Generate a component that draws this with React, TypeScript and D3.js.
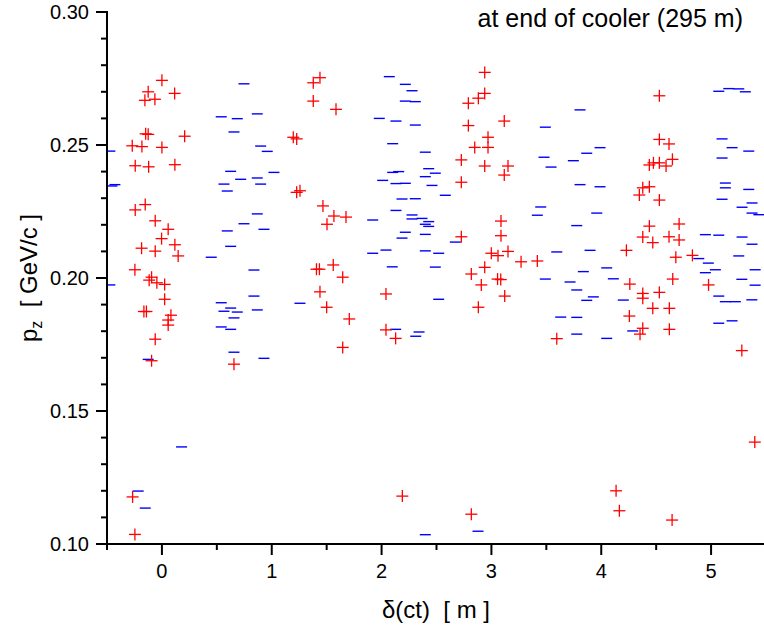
import React from 'react';
import * as d3 from 'd3';

const redX = [0.00,-0.125,0.116,-0.155,-0.064,1.378,1.439,1.378,-0.148,-0.125,0.207,-0.270,-0.182,0.000,1.196,1.227,-0.243,-0.121,0.118,1.227,1.257,1.466,1.566,1.676,1.503,-0.243,-0.152,-0.061,0.057,-0.003,0.118,-0.185,-0.061,0.148,-0.246,1.407,1.434,-0.116,-0.094,-0.046,0.025,0.025,-0.164,-0.141,0.082,0.057,0.057,-0.061,-0.094,0.656,1.560,1.646,1.439,1.500,1.706,1.646,1.585,2.040,2.040,2.128,2.189,2.939,2.939,2.881,2.790,3.117,2.790,2.969,2.848,2.969,2.726,2.939,3.151,3.117,2.726,3.087,3.087,2.726,2.999,3.060,3.151,3.270,3.418,2.939,2.817,2.908,3.056,3.085,3.121,2.881,3.595,2.817,4.260,4.378,4.378,4.529,4.469,4.620,4.256,4.378,4.353,4.620,4.651,4.977,5.280,5.398,4.529,4.529,4.617,4.648,4.438,4.475,4.529,4.590,4.378,4.438,4.347,4.529,4.438,4.709,4.378,4.469,4.617,4.709,4.229,4.679,4.830,4.135,4.165,4.645,-0.267,-0.246];
const redY = [0.2743,0.2700,0.2694,0.2668,0.2672,0.2734,0.2753,0.2665,0.2542,0.2540,0.2533,0.2497,0.2494,0.2491,0.2529,0.2523,0.2422,0.2418,0.2426,0.2322,0.2328,0.2271,0.2233,0.2229,0.2202,0.2256,0.2276,0.2215,0.2183,0.2148,0.2125,0.2112,0.2101,0.2083,0.2031,0.2033,0.2033,0.1992,0.2003,0.1982,0.1976,0.1920,0.1874,0.1874,0.1860,0.1842,0.1823,0.1770,0.1689,0.1676,0.2049,0.2003,0.1948,0.1890,0.1846,0.1739,0.2634,0.1940,0.1805,0.1773,0.1180,0.2773,0.2694,0.2676,0.2657,0.2590,0.2573,0.2529,0.2491,0.2491,0.2444,0.2421,0.2421,0.2387,0.2360,0.2214,0.2159,0.2155,0.2093,0.2084,0.2100,0.2061,0.2064,0.2040,0.2015,0.1974,0.1996,0.1994,0.1932,0.1890,0.1772,0.1112,0.1977,0.1942,0.1924,0.1946,0.1886,0.1886,0.1857,0.1811,0.1789,0.1807,0.1996,0.1974,0.1727,0.1383,0.2685,0.2521,0.2504,0.2446,0.2425,0.2433,0.2433,0.2421,0.2339,0.2343,0.2312,0.2293,0.2195,0.2203,0.2154,0.2133,0.2155,0.2143,0.2104,0.2078,0.2085,0.1200,0.1125,0.1090,0.1177,0.1036];

const blueX = [0.747,0.540,0.686,0.868,0.656,-0.474,0.899,0.959,0.626,0.717,0.868,1.020,0.565,0.899,0.595,-0.428,-0.455,0.868,0.747,0.595,0.929,0.626,0.449,0.838,-0.474,0.540,0.626,0.565,0.686,0.838,0.868,0.656,0.540,0.626,0.656,0.929,-0.125,1.257,2.097,2.128,2.341,2.311,-0.216,-0.152,0.179,2.398,2.878,2.070,2.216,2.277,2.216,2.307,1.979,2.131,2.307,3.491,2.101,2.398,3.479,2.101,2.156,2.429,2.489,2.398,2.010,2.131,2.216,2.459,2.580,2.186,2.307,2.131,2.277,2.277,2.368,2.429,2.398,2.429,1.919,2.216,2.398,2.186,2.671,2.040,1.919,2.398,2.520,2.489,3.449,3.418,3.491,3.543,2.520,3.716,3.837,4.050,4.110,3.777,3.928,3.868,4.201,3.631,3.777,3.777,4.050,4.287,4.975,5.039,4.948,5.401,5.280,5.401,5.070,5.130,5.221,5.371,5.070,5.191,3.807,3.989,3.868,3.746,3.807,3.989,3.959,3.777,3.595,3.898,5.070,5.161,5.252,5.312,5.100,5.191,5.343,5.100,5.130,5.130,5.343,5.100,5.282,5.373,5.373,5.435,4.948,5.070,5.282,5.373,5.252,4.888];
const blueY = [0.2730,0.2606,0.2599,0.2617,0.2549,0.2477,0.2496,0.2476,0.2401,0.2371,0.2376,0.2397,0.2353,0.2353,0.2327,0.2351,0.2346,0.2241,0.2204,0.2177,0.2183,0.2119,0.2078,0.2030,0.1974,0.1907,0.1887,0.1875,0.1872,0.1932,0.1880,0.1850,0.1816,0.1807,0.1721,0.1698,0.1694,0.1905,0.2042,0.1807,0.1797,0.1781,0.1199,0.1135,0.1365,0.1035,0.1048,0.2757,0.2728,0.2704,0.2665,0.2663,0.2600,0.2590,0.2575,0.2567,0.2505,0.2473,0.2454,0.2397,0.2400,0.2411,0.2394,0.2381,0.2367,0.2355,0.2356,0.2348,0.2311,0.2297,0.2298,0.2254,0.2237,0.2222,0.2224,0.2212,0.2202,0.2194,0.2218,0.2172,0.2164,0.2150,0.2135,0.2105,0.2093,0.2102,0.2093,0.2041,0.2267,0.2236,0.1996,0.2417,0.1920,0.1985,0.2024,0.2038,0.1997,0.1955,0.1929,0.1916,0.1917,0.1853,0.1852,0.1789,0.1773,0.1801,0.2056,0.2031,0.2020,0.2031,0.1995,0.1973,0.1932,0.1911,0.1911,0.1918,0.1830,0.1839,0.2632,0.2490,0.2469,0.2441,0.2351,0.2343,0.2244,0.2197,0.2098,0.2104,0.2702,0.2712,0.2711,0.2700,0.2523,0.2490,0.2477,0.2451,0.2357,0.2339,0.2333,0.2296,0.2266,0.2282,0.2244,0.2238,0.2163,0.2161,0.2154,0.2127,0.2083,0.2073];

const xTicks = [0, 1, 2, 3, 4, 5];
const xMinorTicks = [-0.5, 0.5, 1.5, 2.5, 3.5, 4.5];
const yTicks = [0.10, 0.15, 0.20, 0.25, 0.30];
const yTickLabels = ['0.10', '0.15', '0.20', '0.25', '0.30'];
const yMinorTicks = [0.11, 0.12, 0.13, 0.14, 0.16, 0.17, 0.18, 0.19, 0.21, 0.22, 0.23, 0.24, 0.26, 0.27, 0.28, 0.29];

const titleText = 'at end of cooler (295 m)';
const xTitle = 'δ(ct)\u00a0\u00a0[ m ]';

export default function App() {
  const W = 764, H = 628;
  const left = 107, top = 12, bottom = 544, right = 766;
  const x = d3.scaleLinear().domain([-0.5, 5.5]).range([left, right]);
  const y = d3.scaleLinear().domain([0.10, 0.30]).range([bottom, top]);
  const font = '"Liberation Sans", Arial, Helvetica, sans-serif';
  const arm = 6;
  const dash = 5.5;

  return (
    <svg width={W} height={H} style={{ position: 'absolute', left: 0, top: 0, background: '#fff' }} fontFamily={font}>
      <defs>
        <clipPath id="plotClip">
          <rect x={left + 1} y={0} width={W - left} height={bottom} />
        </clipPath>
      </defs>
      <rect x={0} y={0} width={W} height={H} fill="#fff" />
      <g clipPath="url(#plotClip)">
        {blueX.map((v, i) => (
          <line key={'b' + i} x1={x(v) - dash} x2={x(v) + dash} y1={y(blueY[i])} y2={y(blueY[i])} stroke="#0000ff" strokeWidth={1.4} />
        ))}
        {redX.map((v, i) => {
          const cx = x(v), cy = y(redY[i]);
          return (
            <g key={'r' + i} stroke="#ff0000" strokeWidth={1.3}>
              <line x1={cx - arm} x2={cx + arm} y1={cy} y2={cy} />
              <line x1={cx} x2={cx} y1={cy - arm} y2={cy + arm} />
            </g>
          );
        })}
      </g>
      <line x1={left} x2={left} y1={top - 1} y2={bottom + 1} stroke="#000" strokeWidth={2} />
      <line x1={left - 1} x2={W} y1={bottom} y2={bottom} stroke="#000" strokeWidth={2} />
      {yTicks.map((t, i) => (
        <g key={'yt' + i}>
          <line x1={left - 11} x2={left} y1={y(t)} y2={y(t)} stroke="#000" strokeWidth={2} />
          <text x={89} y={y(t) + 7} fontSize={20} textAnchor="end">{yTickLabels[i]}</text>
        </g>
      ))}
      {yMinorTicks.map((t, i) => (
        <line key={'ym' + i} x1={left - 6} x2={left} y1={y(t)} y2={y(t)} stroke="#000" strokeWidth={2} />
      ))}
      {xTicks.map((t, i) => (
        <g key={'xt' + i}>
          <line x1={x(t)} x2={x(t)} y1={bottom} y2={bottom + 11} stroke="#000" strokeWidth={2} />
          <text x={x(t)} y={578} fontSize={20} textAnchor="middle">{String(t)}</text>
        </g>
      ))}
      {xMinorTicks.map((t, i) => (
        <line key={'xm' + i} x1={x(t)} x2={x(t)} y1={bottom} y2={bottom + 6} stroke="#000" strokeWidth={2} />
      ))}
      <text x={743} y={27} fontSize={25} textAnchor="end">{titleText}</text>
      <text x={436} y={618} fontSize={24} textAnchor="middle">{xTitle}</text>
      <text transform="translate(37,278) rotate(-90)" fontSize={24} textAnchor="middle">
        p<tspan fontSize={16} dy={5}>z</tspan><tspan dy={-5}>{'\u00a0\u00a0[ GeV/c ]'}</tspan>
      </text>
    </svg>
  );
}
